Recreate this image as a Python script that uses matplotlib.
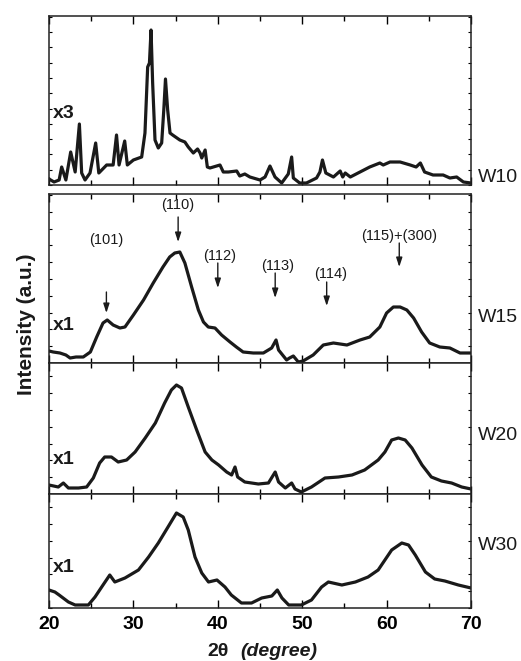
import matplotlib
matplotlib.use('Agg')
import matplotlib.pyplot as plt
from matplotlib.ticker import MultipleLocator

plt.rcParams['font.family'] = ['Liberation Sans', 'DejaVu Sans']

# ---- data (2theta in degrees, intensity in arbitrary units) ----
w10_x = [20.0, 20.6, 21.2, 21.5, 22.0, 22.57, 23.1, 23.6, 23.87, 24.27, 24.86, 25.53, 25.9, 26.83,
         27.6, 28.0, 28.3, 28.97, 29.28, 30.0, 30.98, 31.37, 31.69, 31.9, 32.09, 32.28, 32.56, 32.95,
         33.35, 33.6, 33.8, 34.06, 34.34, 34.65, 35.5, 36.1, 36.5, 37.1, 37.6, 37.9, 38.1, 38.5, 38.76,
         39.07, 40.26, 40.65, 41.25, 42.24, 42.6, 43.2, 43.8, 45.0, 45.6, 46.18, 46.78, 47.57, 48.35,
         48.75, 48.95, 49.7, 50.5, 51.7, 52.1, 52.4, 52.8, 53.7, 54.5, 54.8, 55.1, 55.7, 56.85, 58.0,
         59.2, 59.6, 60.4, 61.6, 62.8, 63.5, 64.0, 64.5, 65.5, 66.7, 67.5, 68.3, 69.1, 70.0]
w10_y = [6, 3, 5, 18, 5, 33, 13, 61, 12, 5, 12, 42, 12, 20, 20, 50, 20, 44, 20, 25, 28, 52, 118, 122,
         155, 102, 45, 37, 42, 75, 106, 75, 52, 50, 45, 43, 38, 32, 36, 32, 27, 35, 18, 17, 20, 13, 13,
         14, 9, 11, 8, 5, 8, 19, 8, 2, 11, 28, 7, 2, 2, 7, 13, 25, 12, 8, 14, 8, 12, 8, 13, 18, 22, 20,
         23, 23, 20, 18, 22, 13, 10, 10, 7, 8, 3, 2]

w15_x = [20.0, 20.5, 21.3, 22.0, 22.5, 23.2, 24.06, 24.9, 25.65, 26.4, 26.9, 27.6, 28.4, 29.0, 30.0,
         31.2, 32.35, 33.5, 34.3, 34.9, 35.5, 36.1, 36.9, 37.7, 38.3, 38.87, 39.67, 40.45, 41.45, 42.2,
         43.0, 44.2, 45.4, 46.38, 46.9, 47.2, 48.15, 48.5, 48.95, 49.54, 50.1, 51.3, 52.5, 53.7, 55.3,
         56.85, 58.0, 59.2, 60.0, 60.8, 61.6, 62.4, 63.2, 64.15, 65.1, 66.3, 67.5, 68.7, 70.0]
w15_y = [12, 11, 10, 8, 5, 6, 6, 11, 26, 40, 43, 38, 35, 36, 48, 63, 80, 96, 106, 110, 111, 100, 76,
         53, 41, 36, 35, 28, 21, 16, 11, 10, 10, 15, 23, 13, 3, 5, 7, 1, 2, 8, 18, 20, 18, 23, 26, 36,
         50, 56, 56, 53, 45, 31, 20, 16, 15, 10, 10]

w20_x = [20.0, 21.1, 21.7, 22.3, 23.5, 24.46, 25.25, 26.0, 26.6, 27.4, 28.2, 29.2, 30.2, 31.4, 32.6,
         33.7, 34.5, 35.1, 35.7, 36.5, 37.5, 38.5, 39.3, 40.1, 41.05, 41.64, 42.04, 42.35, 43.2, 44.8,
         46.0, 46.8, 47.2, 48.0, 48.75, 49.15, 49.9, 51.1, 52.7, 54.3, 55.9, 57.4, 59.0, 59.8, 60.6,
         61.4, 62.2, 63.0, 64.2, 65.3, 66.5, 67.7, 68.9, 70.0]
w20_y = [9, 7, 11, 6, 6, 7, 16, 31, 37, 37, 32, 34, 42, 56, 71, 91, 104, 109, 106, 87, 64, 42, 34, 29,
         22, 19, 27, 17, 12, 10, 11, 22, 12, 6, 11, 5, 2, 7, 16, 17, 19, 24, 34, 42, 54, 56, 54, 46,
         29, 17, 13, 11, 7, 5]

w30_x = [20.0, 20.7, 21.2, 22.3, 23.1, 24.66, 25.45, 26.4, 27.2, 27.8, 29.0, 30.6, 31.8, 32.95, 34.1,
         35.1, 35.9, 36.5, 37.3, 38.1, 38.9, 39.9, 40.85, 41.6, 42.8, 44.0, 45.2, 46.4, 47.05, 47.6,
         48.4, 49.9, 51.1, 52.3, 53.1, 54.7, 56.3, 57.8, 59.0, 59.8, 60.6, 61.8, 62.6, 63.4, 64.6,
         65.7, 66.9, 68.5, 70.0]
w30_y = [18, 16, 13, 6, 3, 3, 11, 23, 33, 26, 30, 38, 51, 65, 81, 95, 91, 78, 51, 35, 26, 28, 21, 13,
         5, 5, 10, 12, 18, 10, 3, 3, 8, 21, 26, 23, 26, 31, 38, 48, 58, 65, 63, 53, 36, 29, 27, 23, 20]

sample_labels = ['W10', 'W15', 'W20', 'W30']
scale_labels = ['x3', 'x1', 'x1', 'x1']

# reflections marked on W15
peak_labels = ['(101)', '(110)', '(112)', '(113)', '(114)', '(115)+(300)']
peak_pos = [26.8, 35.3, 40.0, 46.8, 52.9, 61.5]
peak_label_x = [26.8, 35.3, 40.26, 47.05, 53.4, 61.5]
peak_arrow_tip = [50, 121, 75, 65, 57, 96]
peak_arrow_top = [71, 146, 100, 90, 81, 120]
peak_text_y = [123, 158, 107, 97, 89, 127]

# ---- layout ----
W, H = 521, 661
fig = plt.figure(figsize=(W / 100, H / 100), dpi=100)
left, right = 49 / W, 471 / W
panels = [  # (top px, bottom px, ymax, ytick step, scale label y, sample label y)
    (16, 185, 169, 15.3, 72, 8),
    (194, 363, 169, 16.8, 38, 45),
    (363, 494, 131, 16.8, 34, 58),
    (494, 608, 114, 16.8, 41, 63),
]
series = [(w10_x, w10_y), (w15_x, w15_y), (w20_x, w20_y), (w30_x, w30_y)]

axes = []
for i, ((top, bot, ymax, ystep, sly, wly), (xs, ys)) in enumerate(zip(panels, series)):
    ax = fig.add_axes([left, 1 - bot / H, right - left, (bot - top) / H])
    ax.plot(xs, ys, color='#1a1a1a', lw=2.3, solid_joinstyle='round')
    ax.set_xlim(20, 70)
    ax.set_ylim(0, ymax)
    ax.xaxis.set_major_locator(MultipleLocator(10))
    ax.xaxis.set_minor_locator(MultipleLocator(5))
    ax.yaxis.set_major_locator(MultipleLocator(ystep))
    ax.tick_params(axis='x', which='both', direction='in', top=True, bottom=True, width=1.0)
    ax.tick_params(axis='x', which='major', length=5.5)
    ax.tick_params(axis='x', which='minor', length=3.5)
    ax.tick_params(axis='y', which='both', direction='in', left=True, right=True,
                   labelleft=False, length=2.5, width=0.8)
    for s in ax.spines.values():
        s.set_linewidth(1.1)
        s.set_color('#222222')
    if i < 3:
        ax.set_xticklabels([])
    else:
        ax.tick_params(axis='x', which='major', labelsize=14, pad=6)
        for lab in ax.get_xticklabels():
            lab.set_fontweight('bold')
    ax.text(20.5, sly, scale_labels[i], fontsize=14, fontweight='bold',
            ha='left', va='center', color='#1a1a1a')
    ax.text(70.8, wly, sample_labels[i], fontsize=14, ha='left', va='center',
            color='#1a1a1a', clip_on=False)
    axes.append(ax)

ax15 = axes[1]
for lab, px, lx, tip, atop, ty in zip(peak_labels, peak_pos, peak_label_x,
                                      peak_arrow_tip, peak_arrow_top, peak_text_y):
    ax15.annotate('', xy=(px, tip), xytext=(px, atop),
                  arrowprops=dict(arrowstyle='-|>,head_length=0.55,head_width=0.18',
                                  color='#1a1a1a', lw=1.0, shrinkA=0, shrinkB=0))
    ax15.text(lx, ty, lab, fontsize=10.5, ha='center', va='center', color='#1a1a1a')

fig.text(27 / W, 1 - 324 / H, 'Intensity (a.u.)', rotation=90, fontsize=15,
         fontweight='bold', ha='center', va='center', color='#1a1a1a')
fig.text(207 / W, 1 - 652 / H, '2\u03b8', fontsize=14, fontweight='bold',
         ha='left', va='center', color='#1a1a1a')
fig.text(240 / W, 1 - 652 / H, '(degree)', fontsize=14, fontweight='bold',
         fontstyle='italic', ha='left', va='center', color='#1a1a1a')

fig.savefig('out.png', dpi=100)
